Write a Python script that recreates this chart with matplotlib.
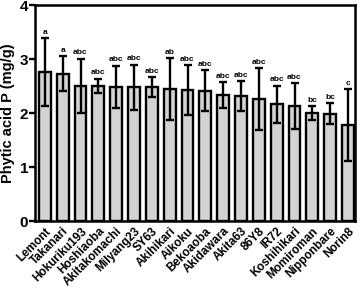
import numpy as np
import matplotlib
matplotlib.use("Agg")
import matplotlib.pyplot as plt

plt.rcParams['font.family'] = ['Liberation Sans', 'DejaVu Sans']
plt.rcParams['font.weight'] = 'bold'

cultivars = ['Lemont', 'Takanari', 'Hokuriku193', 'Hoshiaoba', 'Akitakomachi',
             'Milyang23', 'SY63', 'Akihikari', 'Aikoku', 'Bekoaoba', 'Akidawara',
             'Akita63', '86Y8', 'IR72', 'Koshihikari', 'Momiroman', 'Nipponbare',
             'Norin8']
phytic_p = [2.76, 2.73, 2.51, 2.51, 2.49, 2.48, 2.48, 2.45, 2.43, 2.41, 2.33,
            2.31, 2.26, 2.16, 2.13, 2.00, 1.99, 1.78]
sd = [0.63, 0.32, 0.50, 0.13, 0.39, 0.42, 0.18, 0.57, 0.46, 0.38, 0.24,
      0.28, 0.57, 0.35, 0.42, 0.13, 0.20, 0.67]
letters = ['a', 'a', 'abc', 'abc', 'abc', 'abc', 'abc', 'ab', 'abc', 'abc', 'abc',
           'abc', 'abc', 'abc', 'abc', 'bc', 'bc', 'c']

fig = plt.figure(figsize=(3.58, 3.02), dpi=100)
ax = fig.add_axes([0.098, 0.268, 0.894, 0.715])

x = np.arange(len(cultivars))
ax.bar(x, phytic_p, width=0.66, color='#d3d3d3', edgecolor='black', linewidth=1.7, zorder=2)
ax.errorbar(x, phytic_p, yerr=sd, fmt='none', ecolor='black', elinewidth=1.7,
            capsize=3, capthick=1.7, zorder=3)

for xi, m, s, lab in zip(x, phytic_p, sd, letters):
    ax.text(xi, m + s + 0.04, lab, ha='center', va='bottom', fontsize=6, fontweight='bold')

ax.set_xlim(-0.55, len(cultivars) - 0.6)
ax.set_ylim(0, 4)
ax.set_yticks([0, 1, 2, 3, 4])
ax.set_ylabel('Phytic acid P (mg/g)', fontsize=10.5, fontweight='bold', labelpad=3)
ax.set_xticks(x)
ax.set_xticklabels(cultivars, rotation=45, ha='right', rotation_mode='anchor',
                   fontsize=8.5, fontweight='bold')
ax.tick_params(axis='x', length=0, pad=3)
ax.tick_params(axis='y', length=4, width=1.7, labelsize=11, pad=1)
for lab in ax.get_yticklabels():
    lab.set_fontweight('bold')
for sp in ax.spines.values():
    sp.set_linewidth(1.8)

fig.savefig('out.png', dpi=100)
